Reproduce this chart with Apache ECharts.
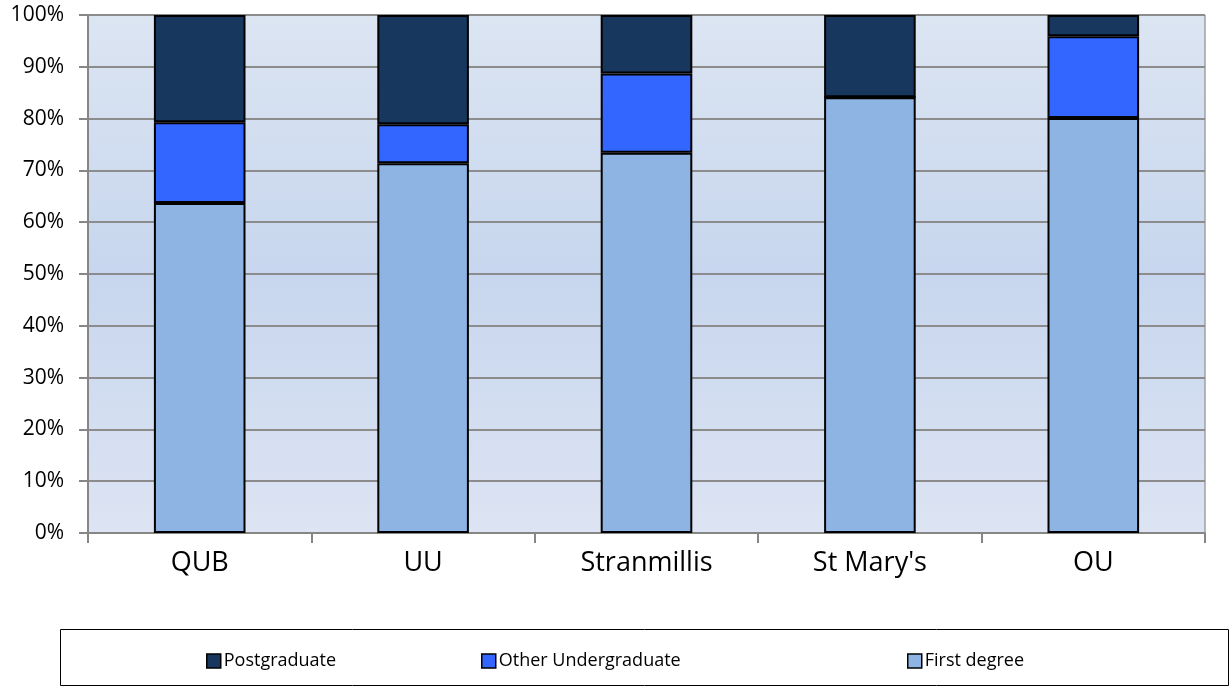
<!DOCTYPE html>
<html>
<head>
<meta charset="utf-8">
<script src="https://cdn.jsdelivr.net/npm/echarts@6/dist/echarts.min.js"></script>
<style>
  html, body { margin: 0; padding: 0; background: #fff; }
  #main { width: 1230px; height: 686px; }
</style>
</head>
<body>
<div id="main"></div>
<script>
// data (percent of students)
const institutions = ['QUB', 'UU', 'Stranmillis', "St Mary's", 'OU'];
const firstDegree = [63.7, 71.4, 73.4, 84.1, 80.1];
const otherUndergrad = [15.6, 7.5, 15.3, 0, 15.8];
const postgraduate = [20.7, 21.1, 11.3, 15.9, 4.1];
const yTicks = [0, 10, 20, 30, 40, 50, 60, 70, 80, 90, 100];

const FONT = '"Open Sans", "Noto Sans", sans-serif';
const colors = {
  post: '#17375e',
  other: '#3366ff',
  first: '#8eb4e3'
};

const chart = echarts.init(document.getElementById('main'));

function barSeries(name, data, color) {
  return {
    name: name,
    type: 'bar',
    stack: 'total',
    barWidth: '41%',
    data: data,
    itemStyle: { color: color, borderColor: '#000', borderWidth: 2 },
    emphasis: { disabled: true }
  };
}

const legendBase = {
  top: 647,
  itemWidth: 14,
  itemHeight: 14,
  itemGap: 0,
  icon: 'rect',
  selectedMode: false,
  textStyle: { fontFamily: FONT, fontSize: 18, color: '#000', padding: [0, 0, 0, -2] },
  itemStyle: { borderColor: '#000', borderWidth: 1.5 }
};

const option = {
  animation: false,
  textStyle: { fontFamily: FONT },
  grid: { left: 88, right: 25, top: 15, bottom: 153, containLabel: false },
  graphic: [
    {
      type: 'rect',
      z: -1,
      shape: { x: 88, y: 15, width: 1117, height: 518 },
      style: {
        fill: new echarts.graphic.LinearGradient(0, 0, 0, 1, [
          { offset: 0, color: '#dce5f2' },
          { offset: 0.5, color: '#c7d6ee' },
          { offset: 1, color: '#dde4f3' }
        ])
      }
    },
    {
      type: 'rect',
      shape: { x: 60.5, y: 629.5, width: 1168, height: 56 },
      style: { fill: 'none', stroke: '#000', lineWidth: 1 }
    },
    // right border of the plot area
    {
      type: 'line',
      shape: { x1: 1205, y1: 15, x2: 1205, y2: 533 },
      style: { stroke: '#a0a0a0', lineWidth: 1.5 }
    }
  ],
  legend: [
    Object.assign({}, legendBase, { left: 201, data: ['Postgraduate'] }),
    Object.assign({}, legendBase, { left: 476, data: ['Other Undergraduate'] }),
    Object.assign({}, legendBase, { left: 902, data: ['First degree'] })
  ],
  xAxis: {
    type: 'category',
    data: institutions,
    boundaryGap: true,
    axisLine: { lineStyle: { color: '#868686', width: 2 } },
    axisTick: { show: true, length: 10, alignWithLabel: false, lineStyle: { color: '#868686', width: 2 } },
    axisLabel: { color: '#000', fontSize: 27, margin: 17, fontFamily: FONT },
    splitLine: { show: false }
  },
  yAxis: {
    type: 'value',
    min: yTicks[0],
    max: yTicks[yTicks.length - 1],
    interval: 10,
    axisLine: { show: true, lineStyle: { color: '#868686', width: 2 } },
    axisTick: { show: true, length: 9, lineStyle: { color: '#868686', width: 2 } },
    axisLabel: {
      color: '#000', fontSize: 21, margin: 24, fontFamily: FONT,
      formatter: function (v) { return v + '%'; }
    },
    splitLine: { show: true, lineStyle: { color: '#8c8c8c', width: 2 } }
  },
  series: [
    barSeries('First degree', firstDegree, colors.first),
    barSeries('Other Undergraduate', otherUndergrad, colors.other),
    barSeries('Postgraduate', postgraduate, colors.post)
  ]
};

chart.setOption(option);
</script>
</body>
</html>
